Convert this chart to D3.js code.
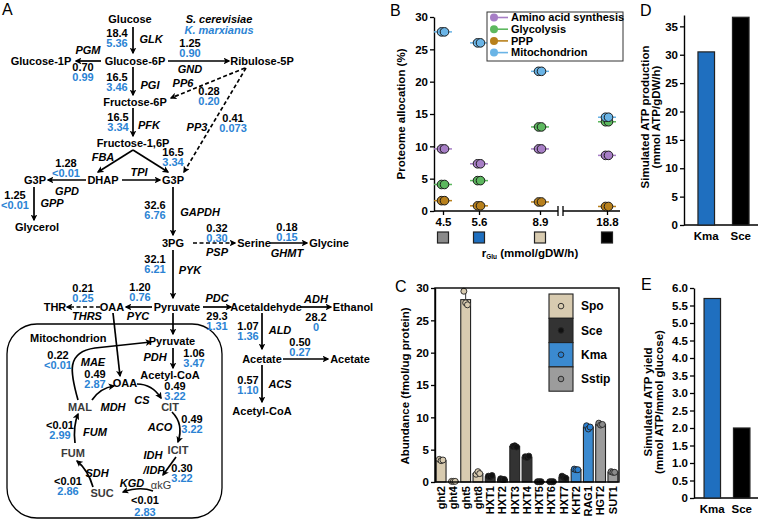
<!DOCTYPE html>
<html><head><meta charset="utf-8">
<script src="https://cdn.jsdelivr.net/npm/d3@7"></script>
<style>body{margin:0;background:#fff}svg{display:block;font-family:"Liberation Sans",Arial,Helvetica,sans-serif}</style>
</head><body>
<svg id="c" width="767" height="521"></svg>
<script>
// ---------------- DATA ----------------
// Panel A: metabolic map (S. cerevisiae black, K. marxianus blue)
const metabolites = ["Glucose","Glucose-6P","Glucose-1P","Ribulose-5P","Fructose-6P","Fructose-1,6P","DHAP","G3P","G3P","Glycerol","3PG","Serine","Glycine","Pyruvate","OAA","THR","Acetaldehyde","Ethanol","Acetate","Acetate","Acetyl-CoA","Pyruvate","Acetyl-CoA","OAA","CIT","MAL","ICIT","αkG","SUC","FUM"];
const enzymes = ["GLK","PGM","GND","PGI","PP6","PFK","PP3","FBA","TPI","GPD","GPP","GAPDH","PSP","GHMT","PYK","PYC","THRS","PDC","ADH","ALD","","ACS","PDH","MAE","MDH","CS","ACO","IDH|/IDP","KGD","SDH","FUM"];
const fluxSce = ["18.4","0.70","1.25","16.5","0.28","16.5","0.41","16.5","","1.28","1.25","32.6","0.32","0.18","32.1","1.20","0.21","29.3","28.2","1.07","0.50","0.57","1.06","0.22","0.49","0.49","0.49","0.30","<0.01","<0.01","<0.01"];
const fluxKma = ["5.36","0.99","0.90","3.46","0.20","3.34","0.073","3.34","","<0.01","<0.01","6.76","0.30","0.15","6.21","0.76","0.25","1.31","0","1.36","0.27","1.10","3.47","<0.01","2.87","3.22","3.22","3.22","2.83","2.86","2.99"];

// Panel B: proteome allocation (%)
const rGlu = [4.5, 5.6, 8.9, 18.8];
const seriesB = ["Amino acid synthesis","Glycolysis","PPP","Mitochondrion"];
const aminoAcid = [9.6, 7.3, 9.6, 8.6];
const glycolysis = [4.1, 4.7, 13.0, 13.8];
const ppp = [1.6, 0.8, 1.4, 0.7];
const mitochondrion = [27.7, 26.0, 21.6, 14.5];
const yTicksB = [0,5,10,15,20,25,30];

// Panel C: transporter abundance (fmol/ug protein)
const transporters = ["ght2","ght4","ght5","ght8","HXT1","HXT2","HXT3","HXT4","HXT5","HXT6","HXT7","KHT2","RAG1","HGT2","SUT1"];
const transporterSpecies = ["Spo","Spo","Spo","Spo","Sce","Sce","Sce","Sce","Sce","Sce","Sce","Kma","Kma","Sstip","Sstip"];
const abundance = [3.3, 0.1, 28.2, 1.3, 0.8, 0.4, 5.5, 3.8, 0.05, 0.05, 0.7, 1.9, 8.5, 8.9, 1.5];
const abundanceReps = [[3.5,3.3,3.4],[0.1,0.1,0.1],[29.5,27.7,27.4],[1.2,1.6,1.3],[0.9,0.8,1.0],[0.5,0.4,0.4],[5.5,5.6,5.4],[3.9,3.8,4.0],[0.05,0.05,0.05],[0.05,0.05,0.05],[0.9,0.7,0.6],[2.0,1.9,1.9],[8.7,8.2,8.5],[9.1,8.8,8.9],[1.6,1.5,1.5]];
const speciesC = ["Spo","Sce","Kma","Sstip"];

// Panel D / E
const strains = ["Kma","Sce"];
const atpProduction = [30.5, 36.6];
const atpYield = [5.7, 2.0];

// ---------------- STYLE / LAYOUT ----------------
const BLUE = "#2b83d4";
const colB = {"Amino acid synthesis":"#a77ec6","Glycolysis":"#5db85f","PPP":"#b8801c","Mitochondrion":"#6ab4e6"};
const colC = {"Spo":"#d8cbb0","Sce":"#333333","Kma":"#3b8ad0","Sstip":"#9c9c9c"};
const dotC = {"Spo":"#d8cbb0","Sce":"#111111","Kma":"#2a7fd0","Sstip":"#8a8a8a"};
const condColor = ["#8a8a8a","#1f6fbf","#d8cbb0","#000000"];
const strainColor = {"Kma":"#1f6fbf","Sce":"#000000"};

const metPos = [[130,19],[135,61],[41,61],[262,61],[135,102],[133,143],[103,180],[35,180],[173,180],[37,227],[173,243],[254,243],[329,243],[177,307],[112,307],[55,307],[266,307],[353,307],[262,359],[350,359],[262,411],[172,341],[170,375],[125,383],[170,407],[80,407],[178,450],[161,485],[102,493],[73,453]];
const rxLayout = [
 {e:[151,39],v:[117,33],p:["M133,27L133,53"]},
 {e:[88,50],v:[83,67],p:["M101,61L76,61"]},
 {e:[190,69],v:[190,43],p:["M168,61L229,61"]},
 {e:[150,85],v:[117,77],p:["M133,67L133,95"]},
 {e:[183,83],v:[209,91],p:["M245,68L171,98"],d:1},
 {e:[149,125],v:[118,117],p:["M133,108L133,136"]},
 {e:[197,127],v:[233,118],p:["M246,68L184,172"],d:1},
 {e:[103,157],v:[173,152],p:["M133,150L98,172","M133,150L168,172"]},
 {e:[139,172],v:null,p:["M122,180L160,180"]},
 {e:[67,191],v:[66,163],p:["M86,180L48,180"]},
 {e:[52,203],v:[15,195],p:["M34,187L34,220"]},
 {e:[200,212],v:[155,205],p:["M173,187L173,235"]},
 {e:[217,252],v:[217,228],p:["M193,243L235,243"],d:1},
 {e:[287,253],v:[287,227],p:["M270,243L307,243"]},
 {e:[190,270],v:[155,259],p:["M173,250L173,298"]},
 {e:[138,316],v:[140,287],p:["M152,307L126,307"]},
 {e:[87,316],v:[83,288],p:["M100,307L67,307"],d:1},
 {e:[217,298],v:[217,316],p:["M203,307L231,307"]},
 {e:[316,299],v:[316,317],p:["M300,307L331,307"]},
 {e:[280,330],v:[248,326],p:["M262,313L262,349"]},
 {e:null,v:[300,342],p:["M283,359L328,359"]},
 {e:[280,384],v:[248,380],p:["M262,365L262,402"]},
 {e:[155,357],v:[194,353],p:["M173,348L173,368"]},
 {e:[93,362],v:[58,355],p:["M78,400C70,372 66,352 95,348L151,342"]},
 {e:[113,407],v:[95,374],p:["M92,400Q100,388 114,386"]},
 {e:[142,400],v:[175,386],p:["M137,384Q152,384 161,398"]},
 {e:[160,427],v:[192,419],p:["M172,412Q184,424 178,442"]},
 {e:[153,455],v:[182,468],p:["M176,457L163,475"]},
 {e:[132,483],v:[145,500.5],g:12,p:["M153,491Q140,486 123,492"]},
 {e:[97,473],v:[68,481],p:["M93,487Q88,470 77,461"]},
 {e:[95,432],v:[60,425],p:["M75,443Q73,426 78,414"]}
];
const transportPaths = ["M173,313L173,334","M113,313L120,376"];

// ---------------- DRAW ----------------
const svg = d3.select("#c");
const defs = svg.append("defs");
defs.append("marker").attr("id","ah").attr("viewBox","0 0 10 10").attr("refX",8).attr("refY",5)
  .attr("markerWidth",4).attr("markerHeight",4).attr("orient","auto").attr("markerUnits","strokeWidth")
  .append("path").attr("d","M0,0L10,5L0,10L2.5,5z").attr("fill","#000");

function txt(g,x,y,s,o={}){
  return g.append("text").attr("x",x).attr("y",y).attr("dy",o.dy||"0.35em")
   .attr("text-anchor",o.anchor||"middle").attr("font-size",o.size||11)
   .attr("font-weight",o.weight||"bold").attr("font-style",o.style||"normal")
   .attr("fill",o.fill||"#000").text(s);
}
function panelLetter(x,y,s){ svg.append("text").attr("x",x).attr("y",y).attr("font-size",16).attr("fill","#000").text(s); }

// ---- Panel A ----
const gA = svg.append("g");
panelLetter(2,15,"A");
gA.append("rect").attr("x",7).attr("y",324).attr("width",215).attr("height",194).attr("rx",30)
  .attr("fill","none").attr("stroke","#000").attr("stroke-width",1.3);
txt(gA,30,338,"Mitochondrion",{anchor:"start"});
txt(gA,219,19,"S. cerevisiae",{style:"italic"});
txt(gA,219,30,"K. marxianus",{style:"italic",fill:BLUE});
const drawArrow = (d,dashed)=> gA.append("path").attr("d",d).attr("fill","none").attr("stroke","#000")
  .attr("stroke-width",1.7).attr("stroke-dasharray",dashed?"4,2.5":null).attr("marker-end","url(#ah)");
transportPaths.forEach(d=>drawArrow(d,false));
rxLayout.forEach((L,i)=>{
  L.p.forEach(d=>drawArrow(d,L.d));
  if(L.e && enzymes[i]){
    enzymes[i].split("|").forEach((s,k)=>txt(gA,L.e[0]+(k?1:0),L.e[1]+k*15,s,{style:"italic"}));
  }
  if(L.v){
    txt(gA,L.v[0],L.v[1],fluxSce[i]);
    txt(gA,L.v[0],L.v[1]+(L.g||10.5),fluxKma[i],{fill:BLUE});
  }
});
const grayMets = new Set([24,25,26,27,28,29]);
metabolites.forEach((m,i)=>{
  txt(gA,metPos[i][0],metPos[i][1],m,{fill:grayMets.has(i)?"#3a3a3a":"#000",weight:m==="αkG"?"normal":"bold"});
});

// ---- Panel B ----
const gB = svg.append("g");
panelLetter(390,16,"B");
const yB = d3.scaleLinear().domain([0,30]).range([211,17]);
const xB = d3.scaleLinear().domain(rGlu).range([443,479,540,607]);
const axStyle = g=>{ g.selectAll("text").attr("font-size",11.5).attr("font-weight","bold").attr("fill","#000")
   .attr("font-family",'"Liberation Sans",Arial,sans-serif');
   g.selectAll("line").attr("stroke","#000").attr("stroke-width",1.3);
   g.selectAll("path.domain").attr("stroke","#000").attr("stroke-width",1.4); };
gB.append("g").attr("transform","translate(434,0)")
  .call(d3.axisLeft(yB).tickValues(yTicksB).tickSize(4).tickSizeOuter(0).tickPadding(2)).call(axStyle);
const xAx = gB.append("g").attr("transform","translate(0,211)")
  .call(d3.axisBottom(xB).tickValues(rGlu).tickFormat(d=>d).tickSize(4).tickPadding(3)).call(axStyle);
xAx.select("path.domain").remove();
[[434,558],[563,620]].forEach(s=>gB.append("line").attr("x1",s[0]).attr("x2",s[1]).attr("y1",211).attr("y2",211).attr("stroke","#000").attr("stroke-width",1.4));
[558,563].forEach(x=>gB.append("line").attr("x1",x).attr("x2",x).attr("y1",206).attr("y2",216).attr("stroke","#000").attr("stroke-width",1.3));
rGlu.forEach((r,i)=>gB.append("rect").attr("x",xB(r)-5.5).attr("y",232).attr("width",11).attr("height",11)
  .attr("fill",condColor[i]).attr("stroke","#222").attr("stroke-width",1.2));
const tB = gB.append("text").attr("x",530).attr("y",257).attr("text-anchor","middle").attr("font-size",11.5).attr("font-weight","bold");
tB.append("tspan").text("r");
tB.append("tspan").attr("font-size",6.5).attr("dy",2).text("Glu");
tB.append("tspan").attr("dy",-2).text(" (mmol/gDW/h)");
gB.append("text").attr("transform","translate(405,114) rotate(-90)").attr("text-anchor","middle")
  .attr("font-size",11.5).attr("font-weight","bold").text("Proteome allocation (%)");
const valsB = [aminoAcid, glycolysis, ppp, mitochondrion];
seriesB.forEach((s,si)=>{
  valsB[si].forEach((v,i)=>{
    const cx = xB(rGlu[i]), cy = yB(v);
    gB.append("line").attr("x1",cx-9).attr("x2",cx+9).attr("y1",cy).attr("y2",cy).attr("stroke",colB[s]).attr("stroke-width",1.5);
    [-1.5,1.5].forEach(o=>gB.append("circle").attr("cx",cx+o).attr("cy",cy).attr("r",4.3)
      .attr("fill",colB[s]).attr("stroke","#1a1a1a").attr("stroke-width",1));
  });
});
const lgB = gB.append("g");
lgB.append("rect").attr("x",487).attr("y",12).attr("width",136).attr("height",49).attr("fill","#fff").attr("stroke","#333").attr("stroke-width",1);
seriesB.forEach((s,i)=>{
  const y = 17.5 + i*11.7;
  lgB.append("line").attr("x1",497).attr("x2",508).attr("y1",y).attr("y2",y).attr("stroke",colB[s]).attr("stroke-width",1.6);
  lgB.append("circle").attr("cx",494).attr("cy",y).attr("r",4).attr("fill",colB[s]);
  txt(lgB,511,y,s,{anchor:"start",size:11});
});

// ---- Panel C ----
const gC = svg.append("g");
panelLetter(395,292,"C");
const yC = d3.scaleLinear().domain([0,30]).range([482,288]);
const xC = d3.scaleBand().domain(transporters).range([435,619]).paddingInner(0.2).paddingOuter(0.1);
gC.append("g").attr("transform","translate(435,0)")
  .call(d3.axisLeft(yC).tickValues([0,5,10,15,20,25,30]).tickSize(4).tickSizeOuter(0).tickPadding(2)).call(axStyle);
gC.append("text").attr("transform","translate(409,386) rotate(-90)").attr("text-anchor","middle")
  .attr("font-size",11.5).attr("font-weight","bold").text("Abundance (fmol/ug protein)");
transporters.forEach((t,i)=>{
  const sp = transporterSpecies[i];
  gC.append("rect").attr("x",xC(t)).attr("y",yC(abundance[i])).attr("width",xC.bandwidth())
    .attr("height",yC(0)-yC(abundance[i])).attr("fill",colC[sp]).attr("stroke","#222").attr("stroke-width",1.1);
  const reps = abundanceReps[i];
  const hi = d3.max(reps), lo = d3.min(reps);
  if(hi-lo>0.5){
    gC.append("line").attr("x1",xC(t)+xC.bandwidth()/2).attr("x2",xC(t)+xC.bandwidth()/2)
      .attr("y1",yC(hi)).attr("y2",yC(lo)).attr("stroke","#333").attr("stroke-width",1);
  }
  reps.forEach((r,k)=>gC.append("circle").attr("cx",xC(t)+xC.bandwidth()/2+(k-1)*1.8).attr("cy",yC(r)).attr("r",3)
    .attr("fill",dotC[sp]).attr("stroke","#222").attr("stroke-width",0.9));
  gC.append("text").attr("transform",`translate(${xC(t)+xC.bandwidth()/2},486) rotate(-90)`)
    .attr("text-anchor","end").attr("dy","0.35em").attr("font-size",11).attr("font-weight","bold").text(t);
});
gC.append("rect").attr("x",435).attr("y",288).attr("width",184).attr("height",194).attr("fill","none").attr("stroke","#000").attr("stroke-width",1.4);
speciesC.forEach((s,i)=>{
  const y0 = 294 + i*24.3;
  gC.append("rect").attr("x",549).attr("y",y0).attr("width",24).attr("height",24.3).attr("fill",colC[s]).attr("stroke","#222").attr("stroke-width",1.1);
  gC.append("circle").attr("cx",561).attr("cy",y0+12.1).attr("r",2.8).attr("fill",dotC[s]).attr("stroke","#222").attr("stroke-width",0.9);
  txt(gC,581,y0+12.1,s,{anchor:"start",size:12});
});

// ---- Panel D ----
const gD = svg.append("g");
panelLetter(640,16,"D");
const yD = d3.scaleLinear().domain([0,37]).range([225,15]);
const xD = d3.scaleBand().domain(strains).range([689,758]).paddingInner(0.52).paddingOuter(0.26);
gD.append("g").attr("transform","translate(684,0)")
  .call(d3.axisLeft(yD).tickValues([0,5,10,15,20,25,30,35]).tickSize(4).tickSizeOuter(0).tickPadding(2)).call(axStyle);
gD.append("line").attr("x1",684).attr("x2",758).attr("y1",225).attr("y2",225).attr("stroke","#000").attr("stroke-width",1.4);
strains.forEach((s,i)=>{
  gD.append("rect").attr("x",xD(s)).attr("y",yD(atpProduction[i])).attr("width",xD.bandwidth())
    .attr("height",yD(0)-yD(atpProduction[i])).attr("fill",strainColor[s]).attr("stroke","#222").attr("stroke-width",1.2);
  txt(gD,xD(s)+xD.bandwidth()/2,236,s,{size:11.5});
});
const dl = gD.append("text").attr("transform","translate(649,117) rotate(-90)").attr("text-anchor","middle").attr("font-size",11.5).attr("font-weight","bold");
dl.append("tspan").attr("x",0).attr("dy",0).text("Simulated ATP production");
dl.append("tspan").attr("x",0).attr("dy",11).text("(mmol ATP/gDW/h)");

// ---- Panel E ----
const gE = svg.append("g");
panelLetter(641,290,"E");
const yE = d3.scaleLinear().domain([0,6]).range([498,288]);
const xE = d3.scaleBand().domain(strains).range([697,757]).paddingInner(0.44).paddingOuter(0.24);
gE.append("g").attr("transform","translate(694,0)")
  .call(d3.axisLeft(yE).tickValues(d3.range(0,6.01,0.5)).tickFormat(d=>d===0?"0":d.toFixed(1)).tickSize(4).tickSizeOuter(0).tickPadding(2)).call(axStyle);
gE.append("line").attr("x1",694).attr("x2",758).attr("y1",498).attr("y2",498).attr("stroke","#000").attr("stroke-width",1.4);
strains.forEach((s,i)=>{
  gE.append("rect").attr("x",xE(s)).attr("y",yE(atpYield[i])).attr("width",xE.bandwidth())
    .attr("height",yE(0)-yE(atpYield[i])).attr("fill",strainColor[s]).attr("stroke","#222").attr("stroke-width",1.2);
  txt(gE,xE(s)+xE.bandwidth()/2,509,s,{size:11.5});
});
const el = gE.append("text").attr("transform","translate(652,402) rotate(-90)").attr("text-anchor","middle").attr("font-size",11.5).attr("font-weight","bold");
el.append("tspan").attr("x",0).attr("dy",0).text("Simulated ATP yield");
el.append("tspan").attr("x",0).attr("dy",11).text("(mmol ATP/mmol glucose)");
</script>
</body></html>
